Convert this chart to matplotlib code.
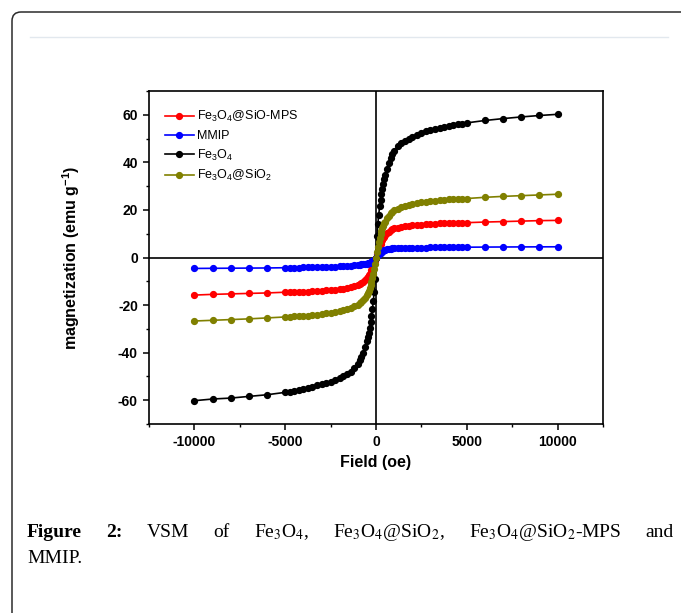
import matplotlib
matplotlib.use("Agg")
import matplotlib.pyplot as plt
from matplotlib.patches import FancyBboxPatch
from matplotlib.lines import Line2D
from matplotlib.transforms import IdentityTransform
from matplotlib.ticker import MultipleLocator

plt.rcParams['font.family'] = ['Liberation Sans', 'DejaVu Sans']
plt.rcParams['mathtext.fontset'] = 'custom'
plt.rcParams['mathtext.rm'] = 'Liberation Sans'
plt.rcParams['mathtext.it'] = 'Liberation Sans:italic'
plt.rcParams['mathtext.bf'] = 'Liberation Sans:bold'
plt.rcParams['axes.unicode_minus'] = False

# 데이터
field = [-10000, -9000, -8000, -7000, -6000, -5000, -4750, -4500, -4250, -4000,
         -3750, -3500, -3250, -3000, -2750, -2500, -2250, -2000, -1800, -1600,
         -1400, -1200, -1000, -900, -800, -700, -600, -500, -450, -400,
         -350, -300, -250, -200, -150, -100, -50, 0,
         50, 100, 150, 200, 250, 300, 350, 400, 450, 500,
         600, 700, 800, 900, 1000, 1200, 1400, 1600, 1800, 2000,
         2250, 2500, 2750, 3000, 3250, 3500, 3750, 4000, 4250, 4500,
         4750, 5000, 6000, 7000, 8000, 9000, 10000]

m_fe3o4 = [-60.2, -59.5, -59.1, -58.4, -57.7, -56.7, -56.4, -56.0, -55.6, -55.2,
           -54.8, -54.3, -53.8, -53.3, -52.8, -52.2, -51.5, -50.7, -50.0, -49.1,
           -48.0, -46.6, -44.6, -43.3, -41.9, -40.0, -37.8, -35.2, -33.5, -31.6,
           -29.5, -27.2, -24.7, -21.8, -18.4, -14.4, -9.2, 0.0,
           9.0, 14.0, 18.0, 21.5, 24.2, 26.6, 28.8, 31.0, 33.0, 34.8,
           37.3, 39.6, 41.7, 43.5, 44.8, 46.8, 48.0, 49.0, 49.9, 50.6,
           51.5, 52.3, 53.0, 53.5, 54.0, 54.5, 54.9, 55.3, 55.7, 56.0,
           56.3, 56.6, 57.6, 58.4, 59.1, 59.7, 60.2]

m_sio2 = [-26.7, -26.4, -26.1, -25.8, -25.4, -25.0, -24.9, -24.8, -24.7, -24.6,
          -24.4, -24.2, -24.0, -23.8, -23.5, -23.2, -22.8, -22.4, -22.0, -21.6,
          -21.1, -20.5, -19.8, -19.3, -18.7, -17.9, -16.9, -15.6, -14.8, -13.9,
          -12.8, -11.6, -10.3, -8.8, -7.0, -5.0, -2.8, 0.0,
          2.5, 4.6, 6.5, 8.2, 9.7, 11.0, 12.2, 13.3, 14.3, 15.1,
          16.5, 17.6, 18.5, 19.2, 19.8, 20.6, 21.2, 21.7, 22.1, 22.5,
          22.9, 23.2, 23.5, 23.7, 23.9, 24.1, 24.3, 24.4, 24.5, 24.6,
          24.7, 24.8, 25.3, 25.7, 26.0, 26.3, 26.6]

m_mps = [-15.8, -15.5, -15.3, -15.1, -14.9, -14.6, -14.55, -14.5, -14.4, -14.35,
         -14.3, -14.2, -14.1, -14.0, -13.85, -13.7, -13.5, -13.3, -13.1, -12.8,
         -12.5, -12.1, -11.6, -11.2, -10.7, -10.1, -9.3, -8.5, -8.0, -7.4,
         -6.8, -6.1, -5.3, -4.5, -3.6, -2.5, -1.3, 0.0,
         1.3, 2.6, 3.8, 4.8, 5.7, 6.6, 7.4, 8.1, 8.7, 9.3,
         10.2, 10.9, 11.5, 11.9, 12.2, 12.6, 12.9, 13.2, 13.4, 13.6,
         13.7, 13.85, 14.0, 14.1, 14.2, 14.3, 14.35, 14.4, 14.5, 14.55,
         14.6, 14.65, 14.9, 15.1, 15.3, 15.5, 15.6]

m_mmip = [-4.6, -4.55, -4.5, -4.45, -4.4, -4.3, -4.28, -4.25, -4.22, -4.2,
          -4.15, -4.1, -4.05, -4.0, -3.95, -3.9, -3.8, -3.7, -3.6, -3.5,
          -3.4, -3.25, -3.1, -3.0, -2.9, -2.8, -2.7, -2.55, -2.45, -2.3,
          -2.15, -2.0, -1.8, -1.55, -1.3, -0.9, -0.5, 0.0,
          0.5, 1.0, 1.4, 1.8, 2.1, 2.4, 2.65, 2.85, 3.0, 3.15,
          3.4, 3.55, 3.7, 3.8, 3.85, 3.95, 4.0, 4.05, 4.1, 4.12,
          4.15, 4.18, 4.2, 4.22, 4.24, 4.25, 4.27, 4.28, 4.3, 4.31,
          4.32, 4.33, 4.38, 4.42, 4.45, 4.48, 4.5]

labels = [r'Fe$_3$O$_4$@SiO-MPS', 'MMIP', r'Fe$_3$O$_4$', r'Fe$_3$O$_4$@SiO$_2$']
colors = ['#ff0000', '#0000ff', '#000000', '#808000']
series = [m_mps, m_mmip, m_fe3o4, m_sio2]

x_ticks = [-10000, -5000, 0, 5000, 10000]
y_ticks = [-60, -40, -20, 0, 20, 40, 60]

W, H = 681, 613
fig = plt.figure(figsize=(W / 100, H / 100), dpi=100)

# 바깥 테두리 (둥근 상자) + 위쪽 얇은 선
box = FancyBboxPatch((12, -40), 720, H - 12 + 40,
                     boxstyle="round,pad=0,rounding_size=9",
                     transform=IdentityTransform(), fill=False,
                     edgecolor='#2b2b2b', linewidth=1.1)
fig.patches.append(box)
fig.lines.append(Line2D([30 / W, 668 / W], [1 - 37 / H, 1 - 37 / H],
                        transform=fig.transFigure, color='#e2e8ee', linewidth=1))

# 그래프
ax = fig.add_axes([149 / W, 1 - 424 / H, (603 - 149) / W, (424 - 91) / H])
ax.axhline(0, color='black', linewidth=1.2, zorder=1)
ax.axvline(0, color='black', linewidth=1.2, zorder=1)
for m, c, lab in zip(series, colors, labels):
    ax.plot(field, m, color=c, marker='o', markersize=4.2, linewidth=1.2,
            label=lab, zorder=3)

ax.set_xlim(-12500, 12500)
ax.set_ylim(-70, 70)
ax.set_xticks(x_ticks)
ax.set_yticks(y_ticks)
ax.xaxis.set_minor_locator(MultipleLocator(2500))
ax.yaxis.set_minor_locator(MultipleLocator(10))
ax.tick_params(which='major', direction='out', length=4.5, width=1.1,
               labelsize=10, top=False, right=False)
ax.tick_params(which='minor', direction='out', length=2.5, width=1.0,
               top=False, right=False)
for lab in ax.get_xticklabels() + ax.get_yticklabels():
    lab.set_fontweight('bold')
for s in ax.spines.values():
    s.set_linewidth(1.2)

ax.set_xlabel('Field (oe)', fontsize=11.5, fontweight='bold', labelpad=4)
ax.set_ylabel(r'magnetization (emu g$^{\mathbf{-1}}$)', fontsize=11.5,
              fontweight='bold', labelpad=26)

ax.legend(loc='upper left', bbox_to_anchor=(0.035, 0.945), frameon=False,
          fontsize=9, handlelength=2.3, handletextpad=0.3, labelspacing=0.45,
          borderpad=0, borderaxespad=0, numpoints=1)

# 캡션 (양쪽 정렬)
cap_kw = dict(fontfamily='Liberation Serif', fontsize=14, math_fontfamily='stix',
              va='baseline', ha='left', color='black')
words = [('Figure', 'bold'), ('2:', 'bold'), ('VSM', 'normal'), ('of', 'normal'),
         (r'Fe$_3$O$_4$,', 'normal'), (r'Fe$_3$O$_4$@SiO$_2$,', 'normal'),
         (r'Fe$_3$O$_4$@SiO$_2$-MPS', 'normal'), ('and', 'normal')]
left_px, right_px = 27, 674
line1_y = 1 - 537 / H
line2_y = 1 - 563 / H

texts = [fig.text(0, line1_y, w, fontweight=fw, **cap_kw) for w, fw in words]
renderer = fig.canvas.get_renderer()
widths = [t.get_window_extent(renderer).width for t in texts]
gap = (right_px - left_px - sum(widths)) / (len(texts) - 1)
xpos = left_px
for t, w in zip(texts, widths):
    t.set_x(xpos / W)
    xpos += w + gap
fig.text(left_px / W, line2_y, 'MMIP.', **cap_kw)

fig.savefig('out.png', dpi=100)
